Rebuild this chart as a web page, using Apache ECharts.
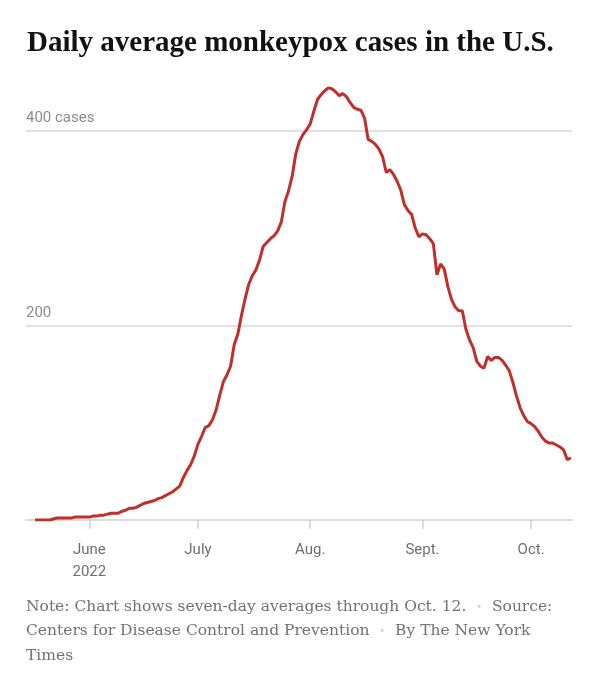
<!DOCTYPE html>
<html>
<head>
<meta charset="utf-8">
<script src="https://cdn.jsdelivr.net/npm/echarts@6/dist/echarts.min.js"></script>
<style>
  html, body { margin: 0; padding: 0; background: #fff; }
  #chart { width: 607px; height: 680px; }
</style>
</head>
<body>
<div id="chart"></div>
<script>
// 7-day average of daily cases, one value per day from May 17, 2022
const startDate = [2022, 4, 17];
const dailyCases = [
  0, 0, 0, 0, 0, 1, 2, 2, 2, 2,
  2, 3, 3, 3, 3, 3, 4, 4, 5, 5,
  6, 7, 7, 7, 9, 10, 12, 12, 13, 15,
  17, 18, 19, 20, 22, 23, 25, 27, 29, 32,
  35, 44, 51, 57, 66, 78, 86, 95, 97, 103,
  113, 128, 142, 149, 158, 180, 191, 210, 227, 242,
  251, 257, 267, 281, 285, 289, 292, 297, 306, 327,
  338, 353, 376, 389, 396, 401, 407, 420, 432, 437,
  441, 444, 443, 440, 436, 438, 435, 429, 424, 422,
  421, 413, 391, 389, 386, 381, 373, 357, 360, 355,
  348, 339, 324, 318, 314, 300, 291, 294, 293, 289,
  284, 252, 263, 258, 240, 227, 219, 215, 215, 196,
  185, 177, 163, 158, 156, 168, 164, 167, 167, 164,
  159, 153, 141, 127, 115, 107, 101, 99, 96, 91,
  85, 81, 79, 79, 77, 75, 72, 62, 64
];
const monthTicks = ['2022-06-01', '2022-07-01', '2022-08-01', '2022-09-01', '2022-10-01'];
const monthLabels = ['June\n2022', 'July', 'Aug.', 'Sept.', 'Oct.'];
const yTicks = [200, 400];

const DAY = 86400000;
const t0 = Date.UTC(startDate[0], startDate[1], startDate[2]);
const seriesData = dailyCases.map((v, i) => [t0 + i * DAY, v]);
const tickTimes = monthTicks.map(s => Date.parse(s + 'T00:00:00Z'));

const chart = echarts.init(document.getElementById('chart'));

const noteStyle = { fontFamily: 'DejaVu Serif', fontSize: 15.5, fill: '#727272' };
const bullet = { b: { fill: '#d2d2d2', fontSize: 10, fontFamily: 'DejaVu Sans' } };

chart.setOption({
  animation: false,
  title: {
    text: 'Daily average monkeypox cases in the U.S.',
    left: 27,
    top: 29,
    padding: 0,
    textStyle: {
      fontFamily: 'Liberation Serif',
      fontWeight: 'bold',
      fontSize: 29,
      color: '#121212'
    }
  },
  grid: { left: 26, right: 35, top: 82, bottom: 160 },
  xAxis: {
    type: 'value',
    min: t0 - 2.5 * DAY,
    max: t0 + 148.3 * DAY,
    axisLine: { show: true, lineStyle: { color: '#dcdcdc', width: 2 } },
    axisTick: {
      show: true,
      length: 9,
      customValues: tickTimes,
      lineStyle: { color: '#d0d0d0', width: 1.5 }
    },
    axisLabel: {
      customValues: tickTimes,
      margin: 19,
      color: '#6f6f6f',
      fontFamily: 'Roboto',
      fontSize: 15,
      lineHeight: 22,
      verticalAlign: 'top',
      formatter: (val) => {
        const idx = tickTimes.indexOf(val);
        return idx >= 0 ? monthLabels[idx] : '';
      }
    },
    splitLine: { show: false }
  },
  yAxis: {
    type: 'value',
    min: 0,
    max: 450,
    interval: 200,
    axisLine: { show: false },
    axisTick: { show: false },
    axisLabel: {
      inside: true,
      margin: 0,
      verticalAlign: 'bottom',
      padding: [0, 0, 5, 0],
      color: '#8c8c8c',
      fontFamily: 'Roboto',
      fontSize: 15,
      formatter: (val) => {
        if (val === 400) return val + ' cases';
        return yTicks.includes(val) ? String(val) : '';
      }
    },
    splitLine: {
      show: true,
      showMinLine: false,
      showMaxLine: false,
      lineStyle: { color: '#e2e2e2', width: 2 }
    }
  },
  series: [{
    type: 'line',
    data: seriesData,
    showSymbol: false,
    lineStyle: { color: '#c0302a', width: 3 },
    z: 5
  }],
  graphic: [
    {
      type: 'text',
      left: 26,
      top: 599,
      style: {
        text: 'Note: Chart shows seven-day averages through Oct. 12.  {b|•}  Source:',
        rich: bullet,
        ...noteStyle
      }
    },
    {
      type: 'text',
      left: 26,
      top: 623,
      style: {
        text: 'Centers for Disease Control and Prevention  {b|•}  By The New York',
        rich: bullet,
        ...noteStyle
      }
    },
    {
      type: 'text',
      left: 26,
      top: 648,
      style: { text: 'Times', ...noteStyle }
    }
  ]
});

window.addEventListener('resize', () => chart.resize());
</script>
</body>
</html>
